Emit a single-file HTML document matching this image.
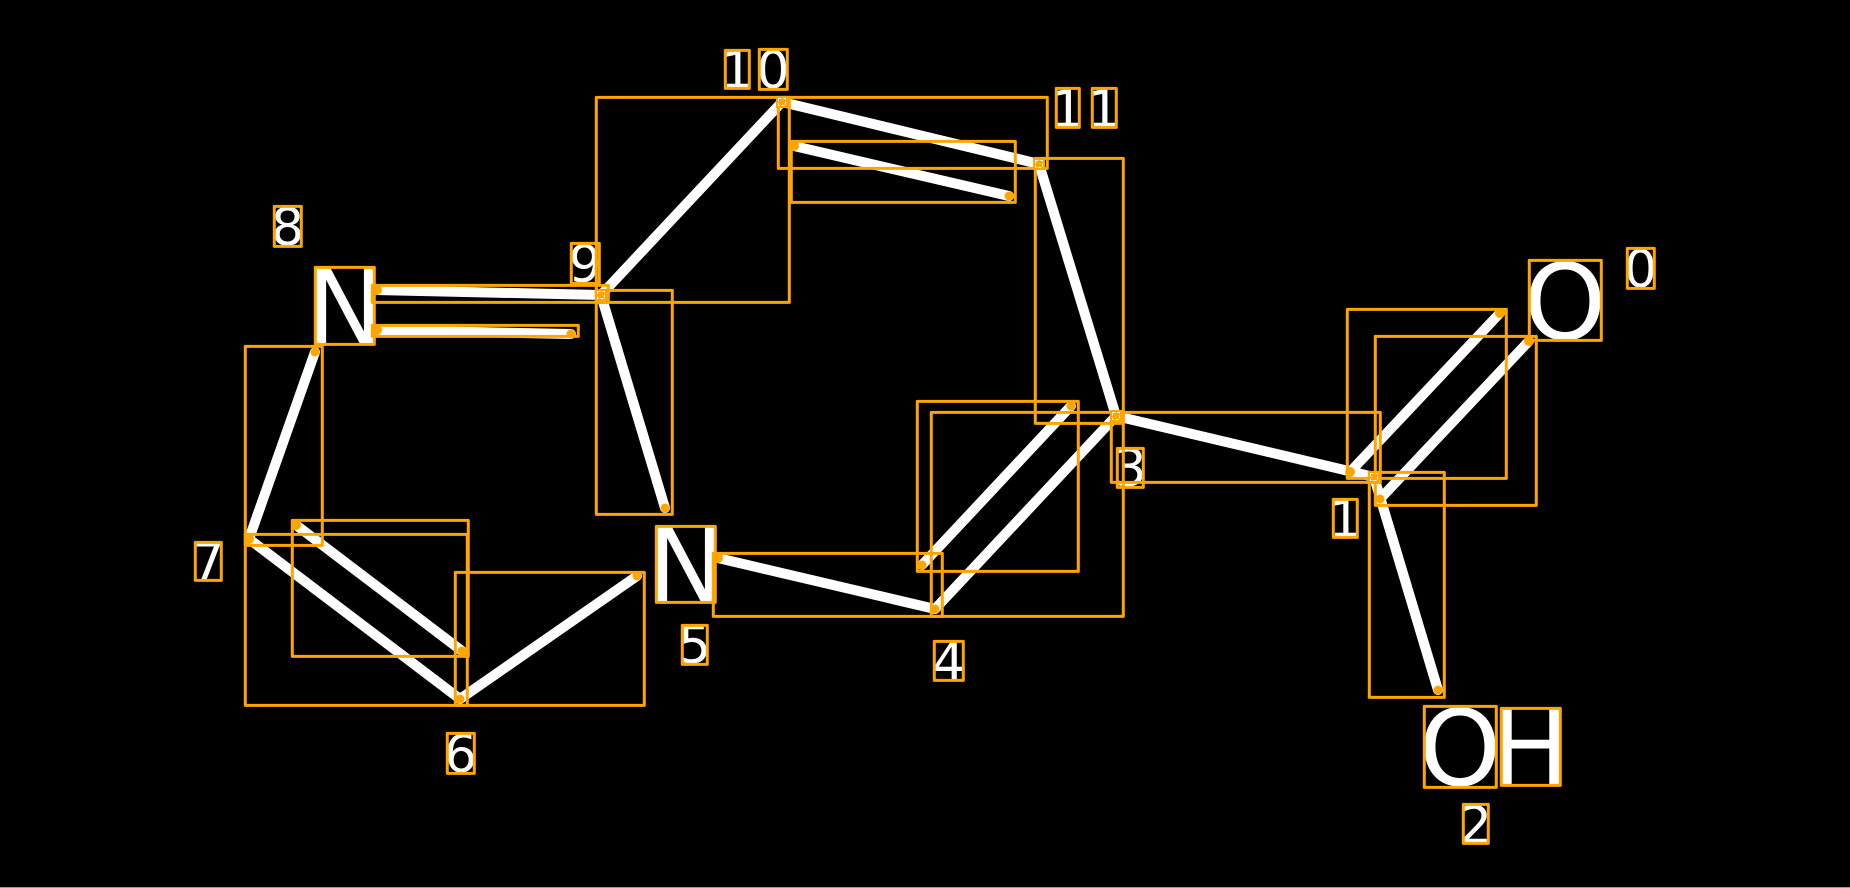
<!DOCTYPE html>
<html>
<head>
<meta charset="utf-8">
<style>
html,body{margin:0;padding:0;background:#000;width:1850px;height:888px;overflow:hidden}
svg{display:block}
text{font-family:"DejaVu Sans",sans-serif;fill:#fff}
.a{font-size:105px}
.l{font-size:52px}
</style>
</head>
<body>
<svg width="1850" height="888" viewBox="0 0 1850 888" xmlns="http://www.w3.org/2000/svg">
<rect width="1850" height="888" fill="#000"/>
<rect y="887" width="1850" height="1" fill="#999"/>
<g stroke="#fff" stroke-width="10" stroke-linecap="round" fill="none">
<line x1="377" y1="290" x2="601" y2="295"/>
<line x1="377" y1="330" x2="571" y2="334"/>
<line x1="601" y1="295" x2="665" y2="508"/>
<line x1="601" y1="295" x2="782" y2="102"/>
<line x1="782" y1="102" x2="1039" y2="164"/>
<line x1="794" y1="146" x2="1009" y2="196"/>
<line x1="1039" y1="164" x2="1116" y2="416"/>
<line x1="1116" y1="416" x2="935" y2="609"/>
<line x1="1071" y1="406" x2="922" y2="565"/>
<line x1="935" y1="609" x2="718" y2="558"/>
<line x1="1116" y1="416" x2="1374" y2="477"/>
<line x1="1350" y1="472" x2="1500" y2="313"/>
<line x1="1380" y1="499" x2="1529" y2="341"/>
<line x1="1374" y1="477" x2="1438" y2="690"/>
<line x1="315" y1="352" x2="249" y2="539"/>
<line x1="249" y1="539" x2="460" y2="699"/>
<line x1="296" y1="525" x2="462" y2="651"/>
<line x1="460" y1="699" x2="637" y2="576"/>
</g>
<g text-anchor="middle">
<text class="a" x="345" y="344">N</text>
<text class="a" x="686" y="602">N</text>
<text class="a" x="1565" y="339">O</text>
<text class="a" x="1460" y="785">O</text>
<text class="a" x="1530.500" y="785">H</text>
<text class="l" x="1640.500" y="287">0</text>
<text class="l" x="1345" y="537">1</text>
<text class="l" x="1475.500" y="843">2</text>
<text class="l" x="1130" y="486">3</text>
<text class="l" x="948.500" y="680">4</text>
<text class="l" x="694.500" y="663">5</text>
<text class="l" x="460.500" y="772">6</text>
<text class="l" x="208" y="580">7</text>
<text class="l" x="287.500" y="245">8</text>
<text class="l" x="585" y="282">9</text>
<text class="l" x="737" y="88">1</text>
<text class="l" x="773" y="88">0</text>
<text class="l" x="1067.500" y="127">1</text>
<text class="l" x="1104" y="127">1</text>
</g>
<g fill="none" stroke="#ffa500" stroke-width="3" stroke-linejoin="round" transform="translate(0.300,0.400)">
<rect x="315" y="267" width="59" height="77"/>
<rect x="656" y="526" width="59" height="76"/>
<rect x="1529" y="260" width="72" height="80"/>
<rect x="1424" y="706" width="72" height="81"/>
<rect x="1501" y="708" width="59" height="77"/>
<rect x="1627" y="248" width="27" height="40"/>
<rect x="1333" y="499" width="24" height="38"/>
<rect x="1463" y="804" width="25" height="39"/>
<rect x="1117" y="448" width="26" height="39"/>
<rect x="934" y="641" width="29" height="39"/>
<rect x="682" y="625" width="25" height="39"/>
<rect x="447" y="733" width="27" height="40"/>
<rect x="195" y="542" width="26" height="38"/>
<rect x="274" y="206" width="27" height="40"/>
<rect x="571" y="243" width="28" height="40"/>
<rect x="725" y="50" width="24" height="38"/>
<rect x="759" y="49" width="28" height="40"/>
<rect x="1056" y="88" width="23" height="39"/>
<rect x="1092" y="88" width="24" height="39"/>
<rect x="372" y="285" width="236" height="17"/>
<rect x="372" y="325" width="206" height="11"/>
<rect x="596" y="290" width="76" height="224"/>
<rect x="245" y="346" width="77" height="199"/>
<rect x="292" y="520" width="176" height="136"/>
<rect x="245" y="534" width="222" height="171"/>
<rect x="455" y="572" width="189" height="133"/>
<rect x="713" y="553" width="229" height="63"/>
<rect x="931" y="412" width="192" height="204"/>
<rect x="917" y="401" width="161" height="170"/>
<rect x="596" y="97" width="193" height="205"/>
<rect x="778" y="97" width="269" height="71"/>
<rect x="791" y="141" width="224" height="61"/>
<rect x="1035" y="158" width="88" height="265"/>
<rect x="1111" y="412" width="269" height="70"/>
<rect x="1347" y="309" width="159" height="169"/>
<rect x="1375" y="336" width="161" height="169"/>
<rect x="1369" y="472" width="75" height="225"/>
</g>
<g fill="#ffa500">
<circle cx="377" cy="290" r="5"/>
<circle cx="377" cy="330" r="5"/>
<circle cx="571" cy="334" r="4.500"/>
<circle cx="665" cy="508" r="4.500"/>
<circle cx="794" cy="146" r="5"/>
<circle cx="1009" cy="196" r="4.500"/>
<circle cx="1071" cy="406" r="4.500"/>
<circle cx="922" cy="565" r="4.500"/>
<circle cx="935" cy="609" r="4.500"/>
<circle cx="718" cy="558" r="5"/>
<circle cx="1350" cy="472" r="5"/>
<circle cx="1500" cy="313" r="5"/>
<circle cx="1529" cy="341" r="5"/>
<circle cx="1380" cy="499" r="4.500"/>
<circle cx="1438" cy="690" r="4.500"/>
<circle cx="315" cy="352" r="4.500"/>
<circle cx="249" cy="539" r="5"/>
<circle cx="296" cy="525" r="5"/>
<circle cx="462" cy="651" r="4.500"/>
<circle cx="460" cy="699" r="4.500"/>
<circle cx="637" cy="576" r="4.500"/>
<rect x="595" y="289" width="12" height="12"/>
<rect x="776" y="96" width="12" height="12"/>
<rect x="1033" y="158" width="12" height="12"/>
<rect x="1110" y="410" width="12" height="12"/>
<rect x="1368" y="471" width="12" height="12"/>
</g>
<g fill="none" stroke="#fff" stroke-width="1" stroke-dasharray="3 2">
<rect x="597.500" y="291.500" width="7" height="7"/>
<rect x="778.500" y="98.500" width="7" height="7"/>
<rect x="1035.500" y="160.500" width="7" height="7"/>
<rect x="1112.500" y="412.500" width="7" height="7"/>
<rect x="1370.500" y="473.500" width="7" height="7"/>
</g>
</svg>
</body>
</html>
